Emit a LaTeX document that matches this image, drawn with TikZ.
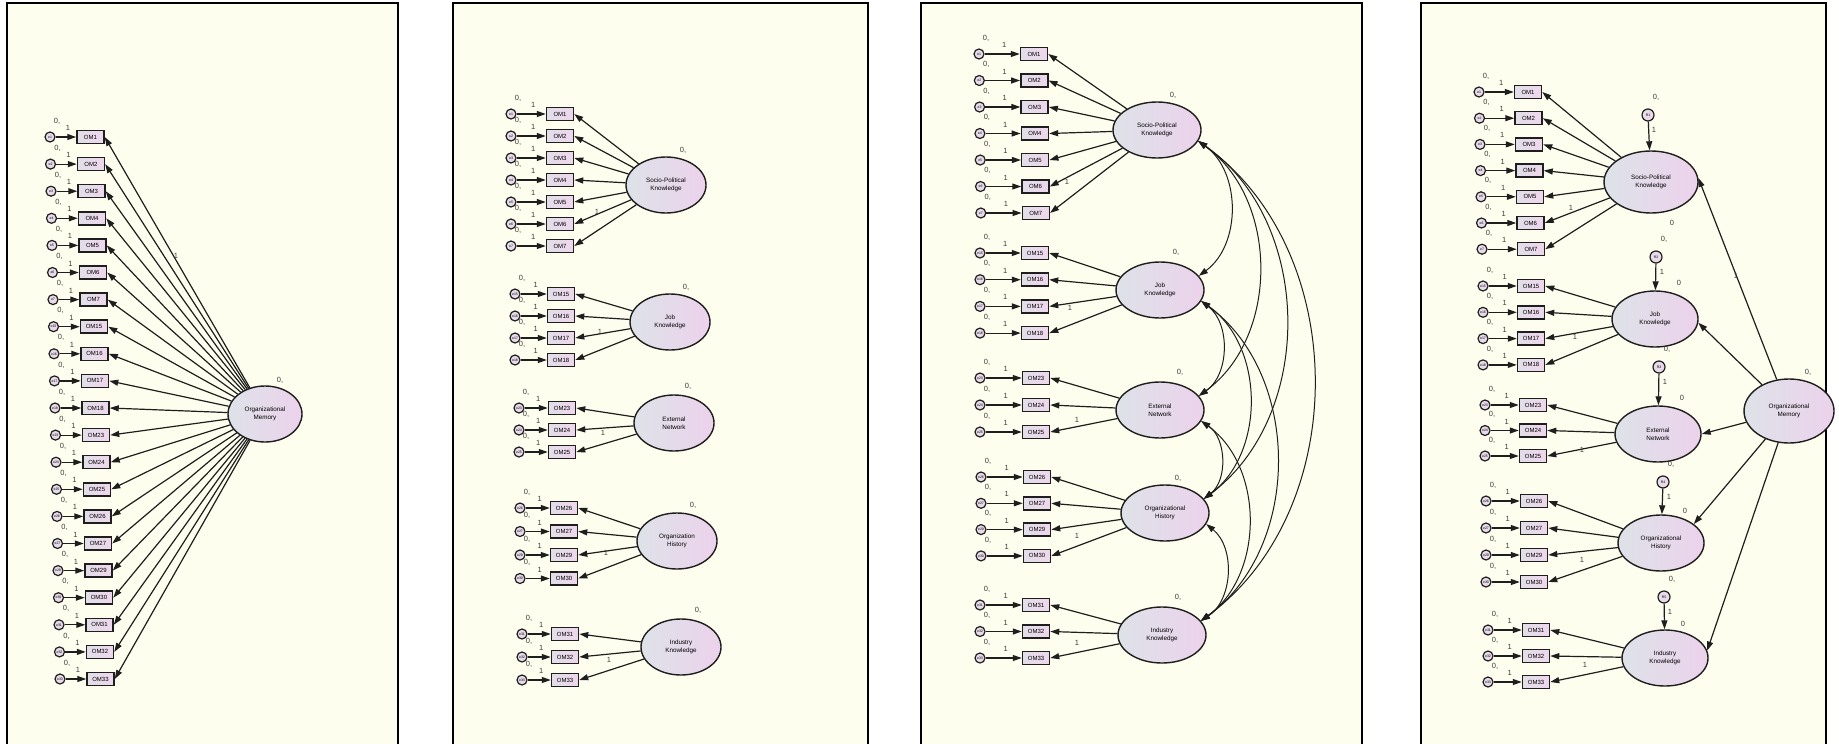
\documentclass[tikz,border=0pt]{standalone}
\usepackage{fontspec}
\setmainfont{Liberation Sans}
\usetikzlibrary{shapes.geometric,arrows.meta,calc}
\definecolor{bgc}{RGB}{254,254,238}
\definecolor{boxl}{RGB}{226,222,232}
\definecolor{boxr}{RGB}{238,214,236}
\definecolor{ell}{RGB}{222,226,232}
\definecolor{elr}{RGB}{236,210,236}
\definecolor{lnc}{RGB}{30,30,30}
\definecolor{lbc}{RGB}{60,60,60}
\tikzset{
  obs/.style={draw=lnc, line width=1.5pt, rectangle, left color=boxl, right color=boxr, minimum width=27pt, minimum height=13pt, inner sep=0pt, font=\fontsize{6}{6}\selectfont},
  err/.style={draw=lnc, line width=1.2pt, circle, left color=boxl, right color=boxr, minimum size=10pt, inner sep=0pt, font=\fontsize{3.5}{3.5}\selectfont},
  lat/.style={draw=lnc, line width=1.4pt, ellipse, left color=ell, right color=elr, minimum width=80pt, minimum height=56pt, inner sep=0pt, align=center, font=\fontsize{6.3}{8}\selectfont},
  arr/.style={draw=lnc, line width=1.2pt, -{Triangle[length=9pt,width=6pt]}},
  cov/.style={draw=lnc, line width=1pt, {Triangle[length=9pt,width=6pt]}-{Triangle[length=9pt,width=6pt]}},
  lab/.style={text=lbc, font=\fontsize{7.5}{7.5}\selectfont, inner sep=0pt},
  panel/.style={line width=1.6pt, draw=black},
}
\newcommand\indgrp[8]{%
  \foreach \n [count=\i from 0] in {#2} {
    \pgfmathsetmacro\yy{#3+#4*\i}
    \pgfmathsetmacro\bb{#5+#7*\i}
    \pgfmathsetmacro\ee{#6+#7*\i}
    \node[obs] (#1\n) at (\bb,\yy) {OM\n};
    \node[err] (#1e\n) at (\ee,\yy) {e\n};
    \draw[arr] (#1e\n) -- (#1\n);
    \node[lab] (#1z\n) at (\ee+7,\yy-16) {0,};
    \node[lab] (#1o\n) at ($(#1e\n.east)!0.5!(#1\n.west)+(2,-9)$) {1};
    \draw[arr] (#8) -- (#1\n.east);
  }%
}
\begin{document}
\begin{tikzpicture}[x=1pt,y=-1pt]
\useasboundingbox (0,0) rectangle (1839,744);
\fill[white] (0,0) rectangle (1839,744);
\foreach \l/\r in {7/398, 453/868, 921/1362, 1421/1826} {
  \fill[bgc] (\l,3) rectangle (\r,744);
  \draw[panel] (\l,748) -- (\l,3) -- (\r,3) -- (\r,748);
}
% ---------- panel 1
\node[lat, minimum width=74pt, minimum height=56pt] (aOM) at (265,414) {Organizational\\Memory};
\indgrp{a}{1,2,3,4,5,6,7,15,16,17,18,23,24,25,26,27,29,30,31,32,33}{137}{27.1}{90.5}{50}{0.5}{aOM}
\node[lab] (aOMz) at (280,380) {0,};
\node[lab] (aOMo) at (176,256) {1};
% ---------- panel 2
\node[lat] (bSP) at (666,185) {Socio-Political\\Knowledge};
\node[lat] (bJob) at (670,322) {Job\\Knowledge};
\node[lat] (bEN) at (674,423) {External\\Network};
\node[lat] (bOH) at (677,541) {Organization\\History};
\node[lat] (bIK) at (681,647) {Industry\\Knowledge};
\indgrp{b}{1,2,3,4,5,6,7}{114}{22}{560}{511}{0}{bSP}
\indgrp{b}{15,16,17,18}{294}{22}{561}{515}{0}{bJob}
\indgrp{b}{23,24,25}{408}{22}{562}{519}{0}{bEN}
\indgrp{b}{26,27,29,30}{508}{23.5}{564}{520}{0}{bOH}
\indgrp{b}{31,32,33}{634}{23}{565}{522}{0}{bIK}
\node[lab] (bSPz) at (683,150) {0,};
\node[lab] (bJobz) at (686,287) {0,};
\node[lab] (bENz) at (688,386) {0,};
\node[lab] (bOHz) at (693,505) {0,};
\node[lab] (bIKz) at (698,610) {0,};
\node[lab] (bSPo) at (597,212) {1};
\node[lab] (bJobo) at (600,332) {1};
\node[lab] (bENo) at (603,433) {1};
\node[lab] (bOHo) at (606,553) {1};
\node[lab] (bIKo) at (609,660) {1};
% ---------- panel 3
\node[lat, minimum width=88pt] (cSP) at (1157,130) {Socio-Political\\Knowledge};
\node[lat, minimum width=88pt] (cJob) at (1160,290) {Job\\Knowledge};
\node[lat, minimum width=88pt] (cEN) at (1160,410) {External\\Network};
\node[lat, minimum width=88pt] (cOH) at (1165,513) {Organizational\\History};
\node[lat, minimum width=88pt] (cIK) at (1162,635) {Industry\\Knowledge};
\indgrp{c}{1,2,3,4,5,6,7}{54}{26.5}{1034}{979}{0.3}{cSP}
\indgrp{c}{15,16,17,18}{253}{26.7}{1035}{980}{0}{cJob}
\indgrp{c}{23,24,25}{378}{27}{1036}{980}{0}{cEN}
\indgrp{c}{26,27,29,30}{477}{26.3}{1037}{981}{0}{cOH}
\indgrp{c}{31,32,33}{605}{26.5}{1036}{980}{0}{cIK}
\node[lab] (cSPz) at (1173,95) {0,};
\node[lab] (cJobz) at (1176,252) {0,};
\node[lab] (cENz) at (1180,372) {0,};
\node[lab] (cOHz) at (1178,478) {0,};
\node[lab] (cIKz) at (1178,597) {0,};
\node[lab] (cSPo) at (1067,182) {1};
\node[lab] (cJobo) at (1070,308) {1};
\node[lab] (cENo) at (1077,420) {1};
\node[lab] (cOHo) at (1077,536) {1};
\node[lab] (cIKo) at (1077,643) {1};
\foreach \a/\b in {cSP/cJob, cSP/cEN, cSP/cOH, cSP/cIK, cJob/cEN, cJob/cOH, cJob/cIK, cEN/cOH, cEN/cIK, cOH/cIK}
  \draw[cov] (\a.-15) to[bend left=54] (\b.20);
% ---------- panel 4
\node[lat, minimum width=94pt, minimum height=62pt] (dSP) at (1651,182) {Socio-Political\\Knowledge};
\node[lat, minimum width=86pt] (dJob) at (1655,319) {Job\\Knowledge};
\node[lat, minimum width=86pt] (dEN) at (1658,434) {External\\Network};
\node[lat, minimum width=86pt] (dOH) at (1661,543) {Organizational\\History};
\node[lat, minimum width=86pt] (dIK) at (1665,658) {Industry\\Knowledge};
\indgrp{d}{1,2,3,4,5,6,7}{92}{26.2}{1528}{1479}{0.5}{dSP}
\indgrp{d}{15,16,17,18}{286}{26.3}{1531}{1483}{0}{dJob}
\indgrp{d}{23,24,25}{405}{25.5}{1533}{1485}{0}{dEN}
\indgrp{d}{26,27,29,30}{501}{27}{1534}{1486}{0}{dOH}
\indgrp{d}{31,32,33}{630}{26}{1536}{1488}{0}{dIK}
\node[lat, minimum width=90pt, minimum height=64pt] (dOM) at (1789,411) {Organizational\\Memory};
\foreach \t/\rx/\ry/\k/\an in {dSP/1648/115/1/5, dJob/1656/257/2/-5, dEN/1659/367/3/0, dOH/1663/482/4/30, dIK/1664/597/5/10} {
  \node[err, minimum size=12pt] (dR\k) at (\rx,\ry) {R\k};
  \draw[arr] (dR\k) -- (\t);
  \node[lab] (dRz\k) at (\rx+8,\ry-18) {0,};
  \node[lab] (dRo\k) at (\rx+6,\ry+15) {1};
  \draw[arr] (dOM) -- (\t.\an);
}
\node[lab] (dSPi) at (1672,223) {0};
\node[lab] (dJobi) at (1679,283) {0};
\node[lab] (dENi) at (1682,398) {0};
\node[lab] (dOHi) at (1685,511) {0};
\node[lab] (dIKi) at (1683,624) {0};
\node[lab] (dSPo) at (1571,208) {1};
\node[lab] (dJobo) at (1575,337) {1};
\node[lab] (dENo) at (1582,450) {1};
\node[lab] (dOHo) at (1582,560) {1};
\node[lab] (dIKo) at (1585,665) {1};
\node[lab] (dOMo) at (1736,276) {1};
\node[lab] (dOMz) at (1808,372) {0,};
\end{tikzpicture}
\end{document}
